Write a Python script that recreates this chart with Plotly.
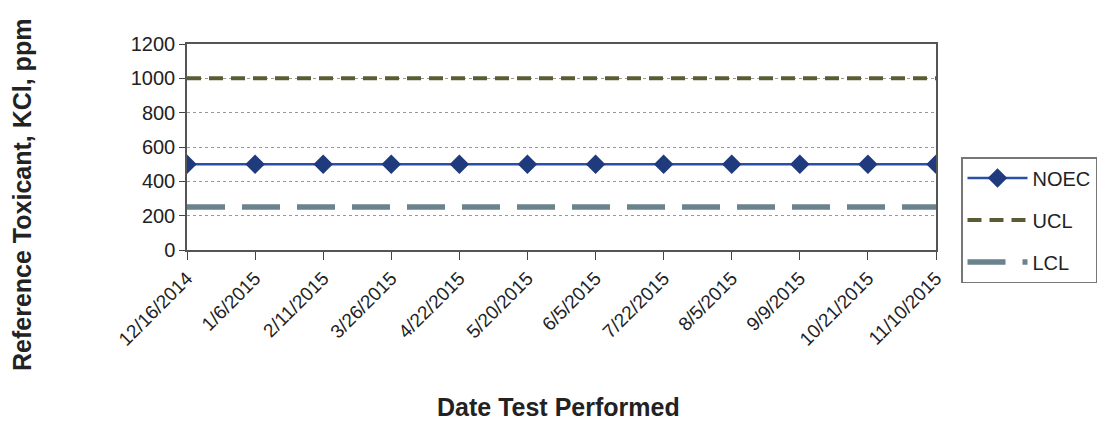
import plotly.graph_objects as go

dates = ["12/16/2014", "1/6/2015", "2/11/2015", "3/26/2015", "4/22/2015", "5/20/2015",
         "6/5/2015", "7/22/2015", "8/5/2015", "9/9/2015", "10/21/2015", "11/10/2015"]
noec = [500, 500, 500, 500, 500, 500, 500, 500, 500, 500, 500, 500]
ucl = [1000, 1000, 1000, 1000, 1000, 1000, 1000, 1000, 1000, 1000, 1000, 1000]
lcl = [250, 250, 250, 250, 250, 250, 250, 250, 250, 250, 250, 250]
y_ticks = [0, 200, 400, 600, 800, 1000, 1200]

# body margin of 8px in html page -> figure is offset by 8px
W, H = 1111, 416
L, T, R, B = 179, 36, 183, 174
pw, ph = W - L - R, H - T - B

fig = go.Figure()
fig.add_trace(go.Scatter(x=dates, y=noec, name="NOEC", mode="lines+markers", legendgroup="a",
                         line=dict(color="#2b4fa8", width=2.5),
                         marker=dict(symbol="diamond", size=15, color="#1f3a7d")))
fig.add_trace(go.Scatter(x=dates, y=ucl, name="UCL", mode="lines", legendgroup="b",
                         line=dict(color="#5c5c34", width=4, dash="14px,8px")))
fig.add_trace(go.Scatter(x=dates, y=lcl, name="LCL", mode="lines", legendgroup="c",
                         line=dict(color="#6b838c", width=5.5, dash="38px,17px")))

fig.update_layout(
    width=W, height=H,
    margin=dict(l=L, r=R, t=T, b=B),
    paper_bgcolor="white", plot_bgcolor="white",
    font=dict(family="Liberation Sans, Arial, sans-serif", size=18, color="#222"),
    showlegend=True,
    legend=dict(x=(953 - L) / pw, y=(T + ph - 149) / ph, xanchor="left", yanchor="top",
                bordercolor="#777", borderwidth=1.5, bgcolor="white",
                font=dict(size=20), tracegroupgap=13, itemwidth=60),
    xaxis=dict(type="category", range=[0, 11], tickangle=-45, tickfont=dict(size=19),
               showgrid=False, ticks="outside", ticklen=8, tickcolor="#444",
               showline=True, linecolor="#555", linewidth=1.5, mirror=True),
    yaxis=dict(range=[0, 1200], tickvals=y_ticks, showgrid=True, tickfont=dict(size=20),
               gridcolor="#999", griddash="dot", gridwidth=1,
               ticks="outside", ticklen=6, tickcolor="#444",
               showline=True, linecolor="#555", linewidth=1.5, mirror=True, zeroline=False),
    annotations=[
        dict(text="<b>Date Test Performed</b>", xref="paper", yref="paper",
             x=(550 - L) / pw, y=(T + ph - 399) / ph, xanchor="center", yanchor="middle",
             showarrow=False, font=dict(size=25, color="#222")),
        dict(text="<b>Reference Toxicant, KCl, ppm</b>", xref="paper", yref="paper",
             x=(14 - L) / pw, y=(T + ph - 187) / ph, xanchor="center", yanchor="middle",
             textangle=-90, showarrow=False, font=dict(size=25, color="#222")),
    ],
)
fig.write_html("out.html")
